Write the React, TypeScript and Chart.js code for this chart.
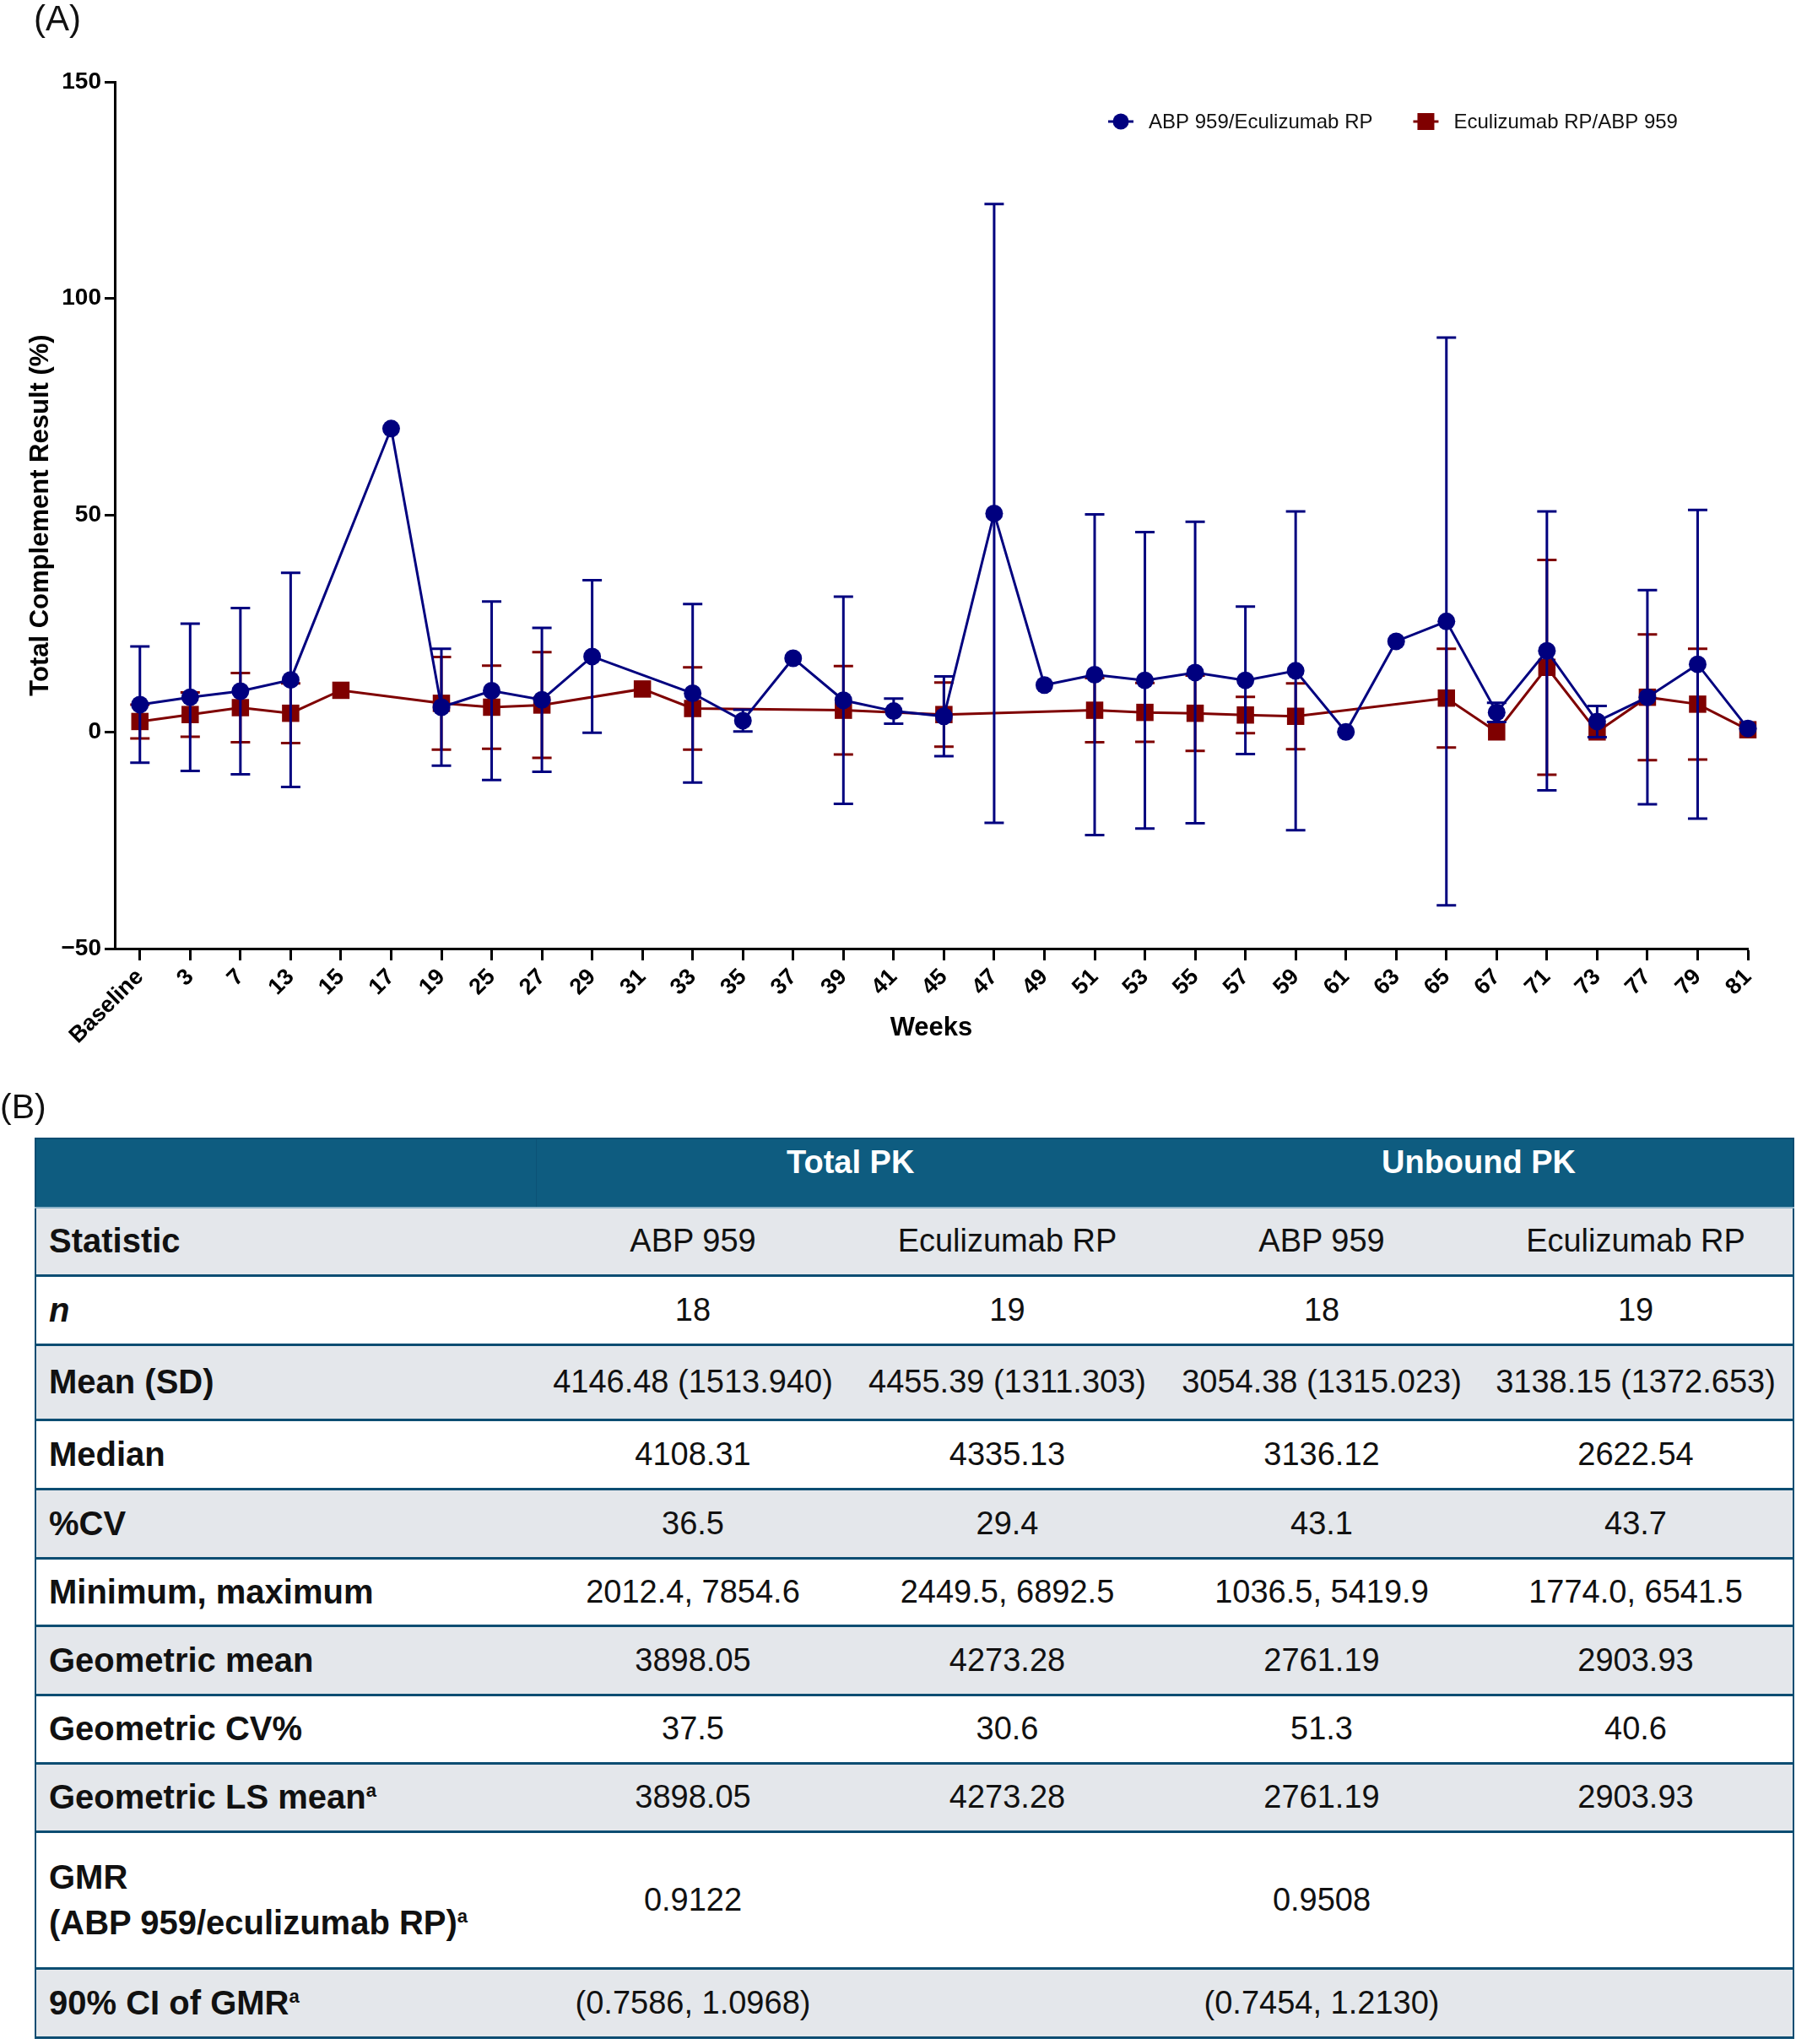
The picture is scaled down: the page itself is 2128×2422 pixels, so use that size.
import React, { useEffect, useRef } from 'react';
import { Chart, registerables } from 'chart.js';

Chart.register(...registerables);

const FONT = '"Liberation Sans", Arial, Helvetica, sans-serif';
const BLUE = '#00007f';
const RED = '#7f0000';

// ---------- Chart data (panel A) ----------
const weekLabels = ['Baseline', '3', '7', '13', '15', '17', '19', '25', '27', '29', '31', '33', '35', '37', '39', '41', '45', '47', '49', '51', '53', '55', '57', '59', '61', '63', '65', '67', '71', '73', '77', '79', '81'];

const abpMean = [6.3, 8.0, 9.4, 12.0, null, 70.0, 5.7, 9.5, 7.4, 17.4, null, 8.9, 2.6, 17.0, 7.3, 4.8, 3.6, 50.4, 10.8, 13.2, 11.9, 13.7, 11.9, 14.1, 0.0, 20.9, 25.5, 4.5, 18.7, 2.4, 8.0, 15.6, 0.8];
const abpSd = [13.4, 17.0, 19.2, 24.7, null, null, 13.5, 20.6, 16.6, 17.6, null, 20.6, 2.5, null, 23.9, 2.9, 9.2, 71.4, null, 37.0, 34.2, 34.8, 17.0, 36.8, null, null, 65.5, 2.2, 32.2, 3.6, 24.7, 35.6, null];

const ecuMean = [2.4, 4.0, 5.6, 4.3, 9.6, null, 6.6, 5.7, 6.2, null, 9.9, 5.4, null, null, 5.0, null, 4.0, null, null, 5.0, 4.5, 4.3, 3.9, 3.6, null, null, 7.8, 0.0, 14.9, 0.0, 8.0, 6.4, 0.5];
const ecuSd = [3.9, 5.1, 8.0, 6.9, null, null, 10.7, 9.6, 12.2, null, null, 9.5, null, null, 10.2, null, 7.4, null, null, 7.4, 6.8, 8.7, 4.2, 7.6, null, null, 11.4, null, 24.8, null, 14.5, 12.8, null];

const seriesNames = ['ABP 959/Eculizumab RP', 'Eculizumab RP/ABP 959'];
const yMin = -50;
const yMax = 150;
const yStep = 50;

// ---------- Table data (panel B) ----------
const groupHeaders = ['Total PK', 'Unbound PK'];
const columnHeaders = ['ABP 959', 'Eculizumab RP', 'ABP 959', 'Eculizumab RP'];
const rowLabels = ['n', 'Mean (SD)', 'Median', '%CV', 'Minimum, maximum', 'Geometric mean', 'Geometric CV%', 'Geometric LS mean', 'GMR', '90% CI of GMR'];
const rowValues = [
  ['18', '19', '18', '19'],
  ['4146.48 (1513.940)', '4455.39 (1311.303)', '3054.38 (1315.023)', '3138.15 (1372.653)'],
  ['4108.31', '4335.13', '3136.12', '2622.54'],
  ['36.5', '29.4', '43.1', '43.7'],
  ['2012.4, 7854.6', '2449.5, 6892.5', '1036.5, 5419.9', '1774.0, 6541.5'],
  ['3898.05', '4273.28', '2761.19', '2903.93'],
  ['37.5', '30.6', '51.3', '40.6'],
  ['3898.05', '4273.28', '2761.19', '2903.93'],
  ['0.9122', '', '0.9508', ''],
  ['(0.7586, 1.0968)', '', '(0.7454, 1.2130)', ''],
];
const rowHeights = [82, 89, 82, 82, 80, 82, 81, 81, 162, 82];

const toPoints = (arr: (number | null)[]) =>
  arr.map((v, i) => (v == null ? null : { x: i, y: v })).filter(Boolean) as { x: number; y: number }[];

const errorBarPlugin = {
  id: 'errorBars',
  beforeDatasetDraw(chart: any, args: any) {
    const ds = chart.data.datasets[args.index];
    const means: (number | null)[] = ds.errMeans;
    const sds: (number | null)[] = ds.errSd;
    if (!means || !sds) return;
    const { ctx } = chart;
    const xs = chart.scales.x;
    const ys = chart.scales.y;
    ctx.save();
    ctx.strokeStyle = ds.borderColor;
    ctx.lineWidth = 3;
    ctx.lineCap = 'butt';
    means.forEach((m, i) => {
      const sd = sds[i];
      if (m == null || sd == null) return;
      const px = xs.getPixelForValue(i);
      const top = ys.getPixelForValue(m + sd);
      const bot = ys.getPixelForValue(m - sd);
      ctx.beginPath();
      ctx.moveTo(px, top);
      ctx.lineTo(px, bot);
      ctx.moveTo(px - 11.5, top);
      ctx.lineTo(px + 11.5, top);
      ctx.moveTo(px - 11.5, bot);
      ctx.lineTo(px + 11.5, bot);
      ctx.stroke();
    });
    ctx.restore();
  },
};

const legendPlugin = {
  id: 'customLegend',
  afterDraw(chart: any) {
    const ctx = chart.ctx;
    ctx.save();
    ctx.font = `24px ${FONT}`;
    ctx.textBaseline = 'middle';
    ctx.textAlign = 'left';
    let x = 1313;
    const y = 144;
    chart.data.datasets.forEach((ds: any) => {
      ctx.strokeStyle = ds.borderColor;
      ctx.lineWidth = 3;
      ctx.beginPath();
      ctx.moveTo(x, y);
      ctx.lineTo(x + 30, y);
      ctx.stroke();
      ctx.fillStyle = ds.borderColor;
      if (ds.pointStyle === 'rect') {
        ctx.fillRect(x + 5, y - 10, 20, 20);
      } else {
        ctx.beginPath();
        ctx.arc(x + 15, y, 9.5, 0, Math.PI * 2);
        ctx.fill();
      }
      ctx.fillStyle = '#111';
      ctx.fillText(ds.label, x + 48, y + 1);
      x += 48 + ctx.measureText(ds.label).width + 48;
    });
    ctx.restore();
  },
};

function ChartPanel() {
  const ref = useRef<HTMLCanvasElement | null>(null);
  useEffect(() => {
    if (!ref.current) return;
    const chart = new Chart(ref.current, {
      type: 'line',
      data: {
        datasets: [
          {
            label: seriesNames[0],
            data: toPoints(abpMean),
            errMeans: abpMean,
            errSd: abpSd,
            borderColor: BLUE,
            backgroundColor: BLUE,
            borderWidth: 3,
            pointStyle: 'circle',
            pointRadius: 10.5,
            pointHoverRadius: 10.5,
            pointBackgroundColor: BLUE,
            pointBorderColor: BLUE,
            pointBorderWidth: 0,
            tension: 0,
            clip: 30,
          } as any,
          {
            label: seriesNames[1],
            data: toPoints(ecuMean),
            errMeans: ecuMean,
            errSd: ecuSd,
            borderColor: RED,
            backgroundColor: RED,
            borderWidth: 3,
            pointStyle: 'rect',
            pointRadius: 14.5,
            pointHoverRadius: 14.5,
            pointBackgroundColor: RED,
            pointBorderColor: RED,
            pointBorderWidth: 0,
            tension: 0,
            clip: 30,
          } as any,
        ],
      },
      options: {
        animation: false,
        responsive: false,
        devicePixelRatio: 1,
        events: [],
        layout: { padding: { left: 0, top: 97, right: 57, bottom: 0 } },
        plugins: {
          legend: { display: false },
          tooltip: { enabled: false },
          title: { display: false },
        },
        scales: {
          x: {
            type: 'linear',
            min: -0.5,
            max: weekLabels.length - 1,
            afterBuildTicks: (scale: any) => {
              scale.ticks = weekLabels.map((_, i) => ({ value: i }));
            },
            afterFit: (scale: any) => {
              scale.height = 1290 - 1124;
            },
            border: { display: true, color: '#000', width: 3 },
            grid: { display: true, drawOnChartArea: false, drawTicks: true, tickLength: 14, tickWidth: 3, tickColor: '#000' },
            ticks: {
              autoSkip: false,
              maxRotation: 45,
              minRotation: 45,
              padding: 4,
              color: '#000',
              font: { family: FONT, size: 27, weight: 'bold' },
              callback: (v: any) => weekLabels[Math.round(Number(v))] ?? '',
            },
            title: {
              display: true,
              text: 'Weeks',
              color: '#000',
              font: { family: FONT, size: 31, weight: 'bold' },
              padding: { top: 0, bottom: 53 },
            },
          },
          y: {
            type: 'linear',
            min: yMin,
            max: yMax,
            afterFit: (scale: any) => {
              scale.width = 136;
            },
            border: { display: true, color: '#000', width: 3 },
            grid: { display: true, drawOnChartArea: false, drawTicks: true, tickLength: 12, tickWidth: 3, tickColor: '#000' },
            ticks: {
              stepSize: yStep,
              padding: 4,
              color: '#000',
              font: { family: FONT, size: 28, weight: 'bold' },
              callback: (v: any) => (Number(v) < 0 ? '\u2212' + Math.abs(Number(v)) : String(v)),
            },
            title: {
              display: true,
              text: 'Total Complement Result (%)',
              color: '#000',
              font: { family: FONT, size: 31, weight: 'bold' },
              padding: { top: 30, bottom: 0 },
            },
          },
        },
      } as any,
      plugins: [errorBarPlugin, legendPlugin],
    });
    return () => chart.destroy();
  }, []);
  return (
    <canvas
      ref={ref}
      width={2128}
      height={1290}
      style={{ position: 'absolute', left: 0, top: 0, width: 2128, height: 1290 }}
    />
  );
}

const HEADER_BG = '#0e5c80';
const ROW_GRAY = '#e4e7eb';
const LINE = '3px solid #0c4d72';

function Sup() {
  return <sup style={{ fontSize: 22, lineHeight: 0, verticalAlign: 'super' }}>a</sup>;
}

function PKTable() {
  const labelCell = (i: number) => {
    const label = rowLabels[i];
    if (label === 'n') return <i>n</i>;
    if (label === 'Geometric LS mean') return <>Geometric LS mean<Sup /></>;
    if (label === 'GMR')
      return (
        <div style={{ lineHeight: '54px' }}>
          GMR
          <br />
          (ABP 959/eculizumab RP)<Sup />
        </div>
      );
    if (label === '90% CI of GMR') return <>90% CI of GMR<Sup /></>;
    return label;
  };
  const baseCell: React.CSSProperties = {
    borderBottom: LINE,
    padding: 0,
    verticalAlign: 'middle',
  };
  return (
    <table
      style={{
        position: 'absolute',
        left: 41,
        top: 1348,
        width: 2083,
        borderCollapse: 'collapse',
        tableLayout: 'fixed',
        fontFamily: FONT,
        color: '#111',
        borderLeft: '2px solid #0c4d72',
        borderRight: '2px solid #0c4d72',
      }}
    >
      <colgroup>
        <col style={{ width: 593 }} />
        <col style={{ width: 372 }} />
        <col style={{ width: 373 }} />
        <col style={{ width: 372 }} />
        <col style={{ width: 373 }} />
      </colgroup>
      <tbody>
        <tr style={{ height: 82, background: HEADER_BG }}>
          <td style={{ ...baseCell, borderBottom: 'none', borderRight: '1px solid #0b5276', borderTop: '2px solid #0c4d72' }} />
          {groupHeaders.map((g) => (
            <td
              key={g}
              colSpan={2}
              style={{
                ...baseCell,
                borderBottom: 'none',
                borderTop: '2px solid #0c4d72',
                verticalAlign: 'top',
                paddingTop: 4,
                textAlign: 'center',
                color: '#fff',
                fontWeight: 'bold',
                fontSize: 38,
                lineHeight: '46px',
              }}
            >
              {g}
            </td>
          ))}
        </tr>
        <tr style={{ height: 80, background: ROW_GRAY }}>
          <td style={{ ...baseCell, paddingLeft: 15, fontWeight: 'bold', fontSize: 40, borderTop: '2px solid #8fb4c9' }}>Statistic</td>
          {columnHeaders.map((c, j) => (
            <td key={j} style={{ ...baseCell, textAlign: 'center', fontSize: 38, borderTop: '2px solid #8fb4c9' }}>
              {c}
            </td>
          ))}
        </tr>
        {rowLabels.map((_, i) => (
          <tr key={i} style={{ height: rowHeights[i], background: i % 2 === 0 ? '#ffffff' : ROW_GRAY }}>
            <td style={{ ...baseCell, paddingLeft: 15, fontWeight: 'bold', fontSize: 40, whiteSpace: 'nowrap' }}>{labelCell(i)}</td>
            {rowValues[i].map((v, j) => (
              <td key={j} style={{ ...baseCell, textAlign: 'center', fontSize: 38, whiteSpace: 'nowrap' }}>
                {v}
              </td>
            ))}
          </tr>
        ))}
      </tbody>
    </table>
  );
}

export default function App() {
  return (
    <div
      style={{
        position: 'absolute',
        left: 0,
        top: 0,
        width: 2128,
        height: 2422,
        background: '#fff',
        overflow: 'hidden',
        fontFamily: FONT,
      }}
    >
      <ChartPanel />
      <div style={{ position: 'absolute', left: 40, top: 1, fontSize: 42, lineHeight: '42px', color: '#111' }}>(A)</div>
      <div style={{ position: 'absolute', left: 0, top: 1291, fontSize: 41, lineHeight: '41px', color: '#111' }}>(B)</div>
      <PKTable />
    </div>
  );
}
